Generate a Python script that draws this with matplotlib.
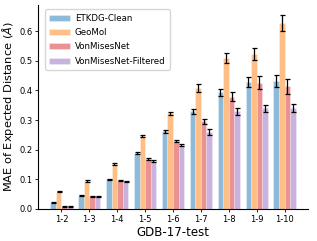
import matplotlib
matplotlib.use("Agg")
import matplotlib.pyplot as plt
import numpy as np

categories = ["1-2", "1-3", "1-4", "1-5", "1-6", "1-7", "1-8", "1-9", "1-10"]
series_names = ["ETKDG-Clean", "GeoMol", "VonMisesNet", "VonMisesNet-Filtered"]
etkdg = [0.021, 0.045, 0.100, 0.188, 0.262, 0.329, 0.393, 0.427, 0.432]
geomol = [0.058, 0.094, 0.152, 0.247, 0.323, 0.408, 0.509, 0.524, 0.627]
vmn = [0.008, 0.043, 0.095, 0.169, 0.230, 0.295, 0.379, 0.425, 0.413]
vmn_f = [0.008, 0.043, 0.093, 0.162, 0.215, 0.261, 0.329, 0.340, 0.340]
etkdg_err = [0.002, 0.002, 0.002, 0.003, 0.005, 0.008, 0.013, 0.017, 0.020]
geomol_err = [0.002, 0.003, 0.003, 0.004, 0.005, 0.013, 0.017, 0.020, 0.028]
vmn_err = [0.001, 0.001, 0.002, 0.003, 0.004, 0.010, 0.015, 0.022, 0.025]
vmn_f_err = [0.001, 0.001, 0.002, 0.003, 0.004, 0.010, 0.012, 0.012, 0.013]

values = [etkdg, geomol, vmn, vmn_f]
errors = [etkdg_err, geomol_err, vmn_err, vmn_f_err]
colors = ["tab:blue", "tab:orange", "tab:red", "tab:purple"]

fig = plt.figure(figsize=(3.17, 2.41), dpi=100)
ax = fig.add_axes([38/317, 1 - 209/241, 270/317, 204/241])

x = np.arange(len(categories))
w = 0.2
for i, (v, e, c, n) in enumerate(zip(values, errors, colors, series_names)):
    ax.bar(x + (i - 1.5) * w, v, w, yerr=e, color=c, alpha=0.5, label=n,
           edgecolor="white", linewidth=0.4,
           error_kw=dict(ecolor="black", elinewidth=0.9, capsize=1.8, capthick=0.9))

ax.set_xticks(x)
ax.set_xticklabels(categories, fontsize=6)
ax.set_yticks([0.0, 0.1, 0.2, 0.3, 0.4, 0.5, 0.6])
ax.tick_params(axis="y", labelsize=6, length=2.5, width=0.6, pad=1.5)
ax.tick_params(axis="x", length=2.5, width=0.6, pad=1.5)
ax.spines["top"].set_visible(False)
ax.spines["right"].set_visible(False)
for s in ["left", "bottom"]:
    ax.spines[s].set_linewidth(0.8)
ax.set_xlabel("GDB-17-test", fontsize=8.5, labelpad=2)
ax.set_ylabel("MAE of Expected Distance ($\\AA$)", fontsize=8.2, labelpad=2)
ax.legend(loc="upper left", fontsize=6.2, frameon=True, handlelength=2.45,
          handletextpad=0.5, borderpad=0.5, labelspacing=0.62,
          bbox_to_anchor=(0.01, 1.0))

fig.savefig("out.png", dpi=100)
